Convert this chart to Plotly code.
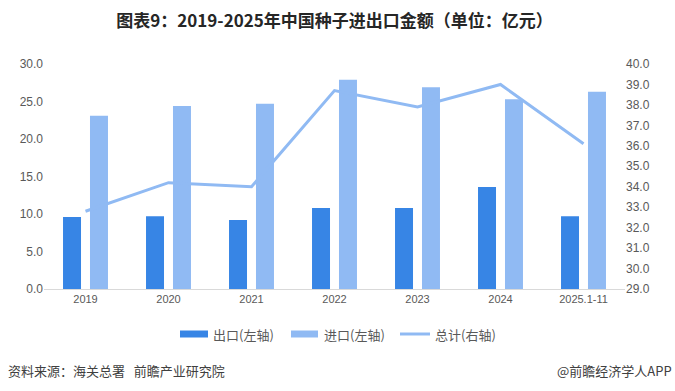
import plotly.graph_objects as go

categories = ["2019", "2020", "2021", "2022", "2023", "2024", "2025.1-11"]
export_vals = [9.6, 9.7, 9.2, 10.8, 10.8, 13.6, 9.7]
import_vals = [23.1, 24.4, 24.7, 27.9, 26.9, 25.3, 26.3]
total_vals = [32.8, 34.2, 34.0, 38.7, 37.9, 39.0, 36.1]

left_ticks = [0, 5, 10, 15, 20, 25, 30]
right_ticks = [29, 30, 31, 32, 33, 34, 35, 36, 37, 38, 39, 40]

series_names = ["出口(左轴)", "进口(左轴)", "总计(右轴)"]
color_export = "#3785E5"
color_import = "#90BAF3"

font_cjk = "Noto Sans CJK SC"
tick_color = "#595959"

W, H = 675, 391
ML, MR, MT, MB = 44, 50, 64, 102
PW, PH = W - ML - MR, H - MT - MB


def px_x(x):
    return (x - ML) / PW


def px_y(y):
    return (H - MB - y) / PH


fig = go.Figure()
fig.add_trace(go.Bar(name=series_names[0], x=categories, y=export_vals,
                     marker=dict(color=color_export, line=dict(width=0))))
fig.add_trace(go.Bar(name=series_names[1], x=categories, y=import_vals,
                     marker=dict(color=color_import, line=dict(width=0))))
fig.add_trace(go.Scatter(name=series_names[2], x=categories, y=total_vals, yaxis="y2",
                         mode="lines", line=dict(color=color_import, width=3)))

fig.update_layout(
    width=W, height=H,
    paper_bgcolor="white", plot_bgcolor="white",
    margin=dict(l=ML, r=MR, t=MT, b=MB, autoexpand=False),
    barmode="group", bargap=0.35, bargroupgap=0.333,
    showlegend=False,
    font=dict(family=font_cjk, color=tick_color, size=11),
    title=dict(text="<b>图表9：2019-2025年中国种子进出口金额（单位：亿元）</b>",
               x=0.5, xanchor="center", xref="paper", y=1 - 21 / H, yanchor="middle",
               font=dict(family=font_cjk, size=17, color="#262626")),
    xaxis=dict(type="category", showgrid=False, showline=True, linecolor="#D9D9D9",
               linewidth=1, ticks="", automargin=False,
               tickfont=dict(size=11, color=tick_color, family="Liberation Sans")),
    yaxis=dict(range=[0, 30], tickvals=left_ticks, tickformat=".1f", showgrid=False,
               zeroline=False, showline=False, ticks="", automargin=False,
               tickfont=dict(size=12, color=tick_color, family="Liberation Sans")),
    yaxis2=dict(range=[29, 40], tickvals=right_ticks, tickformat=".1f", overlaying="y",
                side="right", showgrid=False, zeroline=False, showline=False, ticks="",
                automargin=False,
                tickfont=dict(size=12, color=tick_color, family="Liberation Sans")),
)

# manual legend
leg_y = 334
fig.add_shape(type="rect", xref="paper", yref="paper", x0=px_x(180), x1=px_x(208),
              y0=px_y(leg_y + 3.5), y1=px_y(leg_y - 3.5), fillcolor=color_export, line_width=0)
fig.add_shape(type="rect", xref="paper", yref="paper", x0=px_x(291), x1=px_x(318),
              y0=px_y(leg_y + 3.5), y1=px_y(leg_y - 3.5), fillcolor=color_import, line_width=0)
fig.add_shape(type="line", xref="paper", yref="paper", x0=px_x(400), x1=px_x(430),
              y0=px_y(leg_y), y1=px_y(leg_y), line=dict(color=color_import, width=3))
for xpos, name in zip([211, 322, 433], series_names):
    fig.add_annotation(text=name, xref="paper", yref="paper", x=px_x(xpos), xanchor="left",
                       y=px_y(leg_y), yanchor="middle", showarrow=False,
                       font=dict(size=13, color=tick_color, family=font_cjk))

fig.add_annotation(text="资料来源：海关总署\u00a0\u00a0\u00a0前瞻产业研究院", xref="paper", yref="paper",
                   x=px_x(6), xanchor="left", y=px_y(370), yanchor="middle",
                   showarrow=False, font=dict(size=13, color="#404040", family=font_cjk))
fig.add_annotation(text="@前瞻经济学人APP", xref="paper", yref="paper",
                   x=px_x(674), xanchor="right", y=px_y(370), yanchor="middle",
                   showarrow=False, font=dict(size=13, color="#404040", family=font_cjk))

fig.write_html("out.html", config={"displayModeBar": False},
               post_script="document.body.style.margin='0';document.body.style.overflow='hidden';")
